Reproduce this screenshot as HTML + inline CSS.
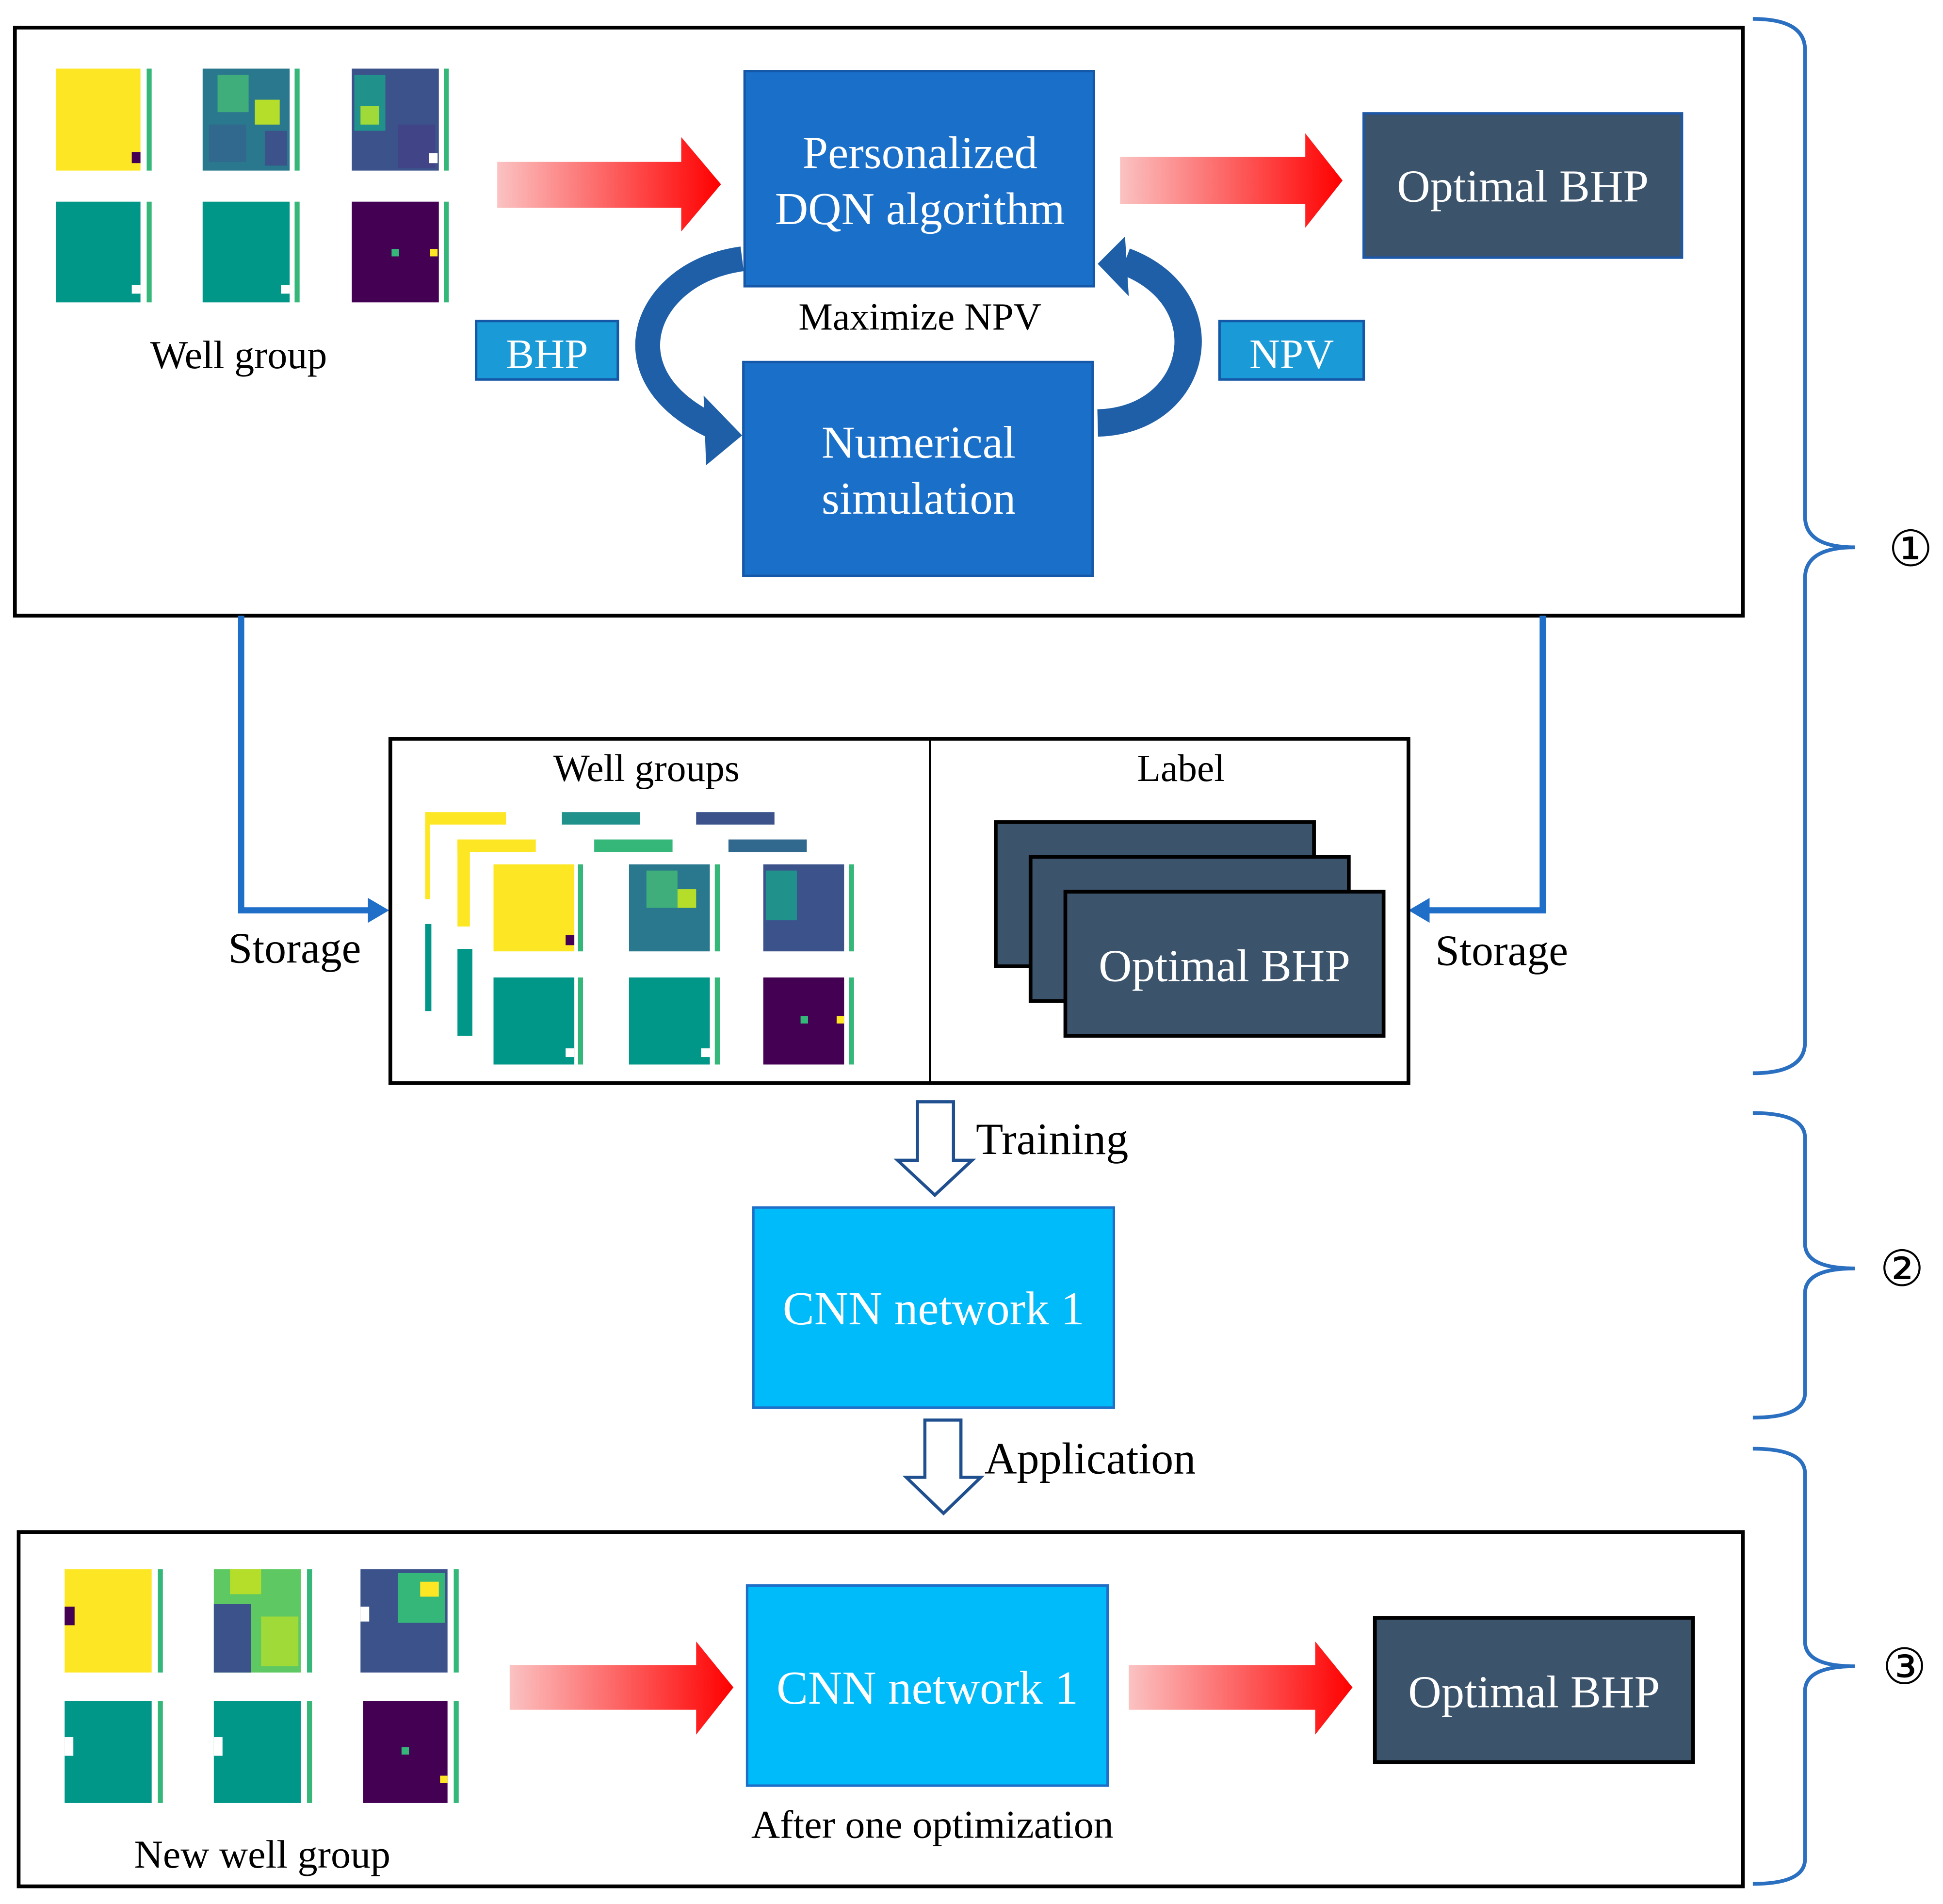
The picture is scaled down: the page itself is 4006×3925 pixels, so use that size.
<!DOCTYPE html>
<html><head><meta charset="utf-8"><style>
html,body{margin:0;padding:0;background:#fff;}
svg{display:block;}
text{font-family:"Liberation Serif",serif;}
</style></head><body>
<svg width="4006" height="3925" viewBox="0 0 1563 1531" xmlns="http://www.w3.org/2000/svg">
<defs>
<linearGradient id="rg" x1="0" x2="1" y1="0" y2="0"><stop offset="0" stop-color="#fbc2c2"/><stop offset="1" stop-color="#ff0000"/></linearGradient>
</defs>
<rect width="1563" height="1531" fill="#fff"/>

<rect x="12" y="22" width="1390" height="473" fill="none" stroke="#000" stroke-width="3"/>

<g>
<rect x="45" y="55" width="68" height="82" fill="#fde725"/><rect x="106" y="122" width="7" height="9" fill="#440154"/>
<rect x="118" y="55" width="4" height="82" fill="#35b779"/>
<rect x="163" y="55" width="70" height="82" fill="#2a788e"/><rect x="175" y="60" width="25" height="30" fill="#3fae7a"/><rect x="205" y="80" width="20" height="20" fill="#b5de2b"/><rect x="168" y="100" width="30" height="30" fill="#31688e"/><rect x="213" y="105" width="18" height="28" fill="#3b528b"/>
<rect x="237" y="55" width="4" height="82" fill="#35b779"/>
<rect x="283" y="55" width="70" height="82" fill="#3b528b"/><rect x="285" y="60" width="25" height="45" fill="#21918c"/><rect x="290" y="85" width="15" height="15" fill="#a0da39"/><rect x="320" y="100" width="30" height="35" fill="#414487"/><rect x="345" y="123" width="7" height="8" fill="#fff"/>
<rect x="357" y="55" width="4" height="82" fill="#35b779"/>
<rect x="45" y="162" width="68" height="81" fill="#009688"/><rect x="106" y="229" width="7" height="7" fill="#fff"/><rect x="118" y="162" width="4" height="81" fill="#35b779"/>
<rect x="163" y="162" width="70" height="81" fill="#009688"/><rect x="226" y="229" width="7" height="7" fill="#fff"/><rect x="237" y="162" width="4" height="81" fill="#35b779"/>
<rect x="283" y="162" width="70" height="81" fill="#440154"/><rect x="315" y="200" width="6" height="6" fill="#35b779"/><rect x="346" y="200" width="6" height="6" fill="#fde725"/><rect x="357" y="162" width="4" height="81" fill="#35b779"/>
</g>
<text x="192" y="296" font-size="32" text-anchor="middle">Well group</text>

<polygon points="400,130 548,130 548,110 580,148 548,186 548,167 400,167" fill="url(#rg)"/>
<polygon points="901,126 1050,126 1050,107 1080,145 1050,183 1050,164 901,164" fill="url(#rg)"/>

<rect x="599" y="57" width="281" height="173" fill="#1a6fc9" stroke="#1558a8" stroke-width="2"/>
<text x="740" y="135" font-size="37" fill="#fff" text-anchor="middle">Personalized</text>
<text x="740" y="180" font-size="37" fill="#fff" text-anchor="middle">DQN algorithm</text>
<rect x="1097" y="91" width="256" height="116" fill="#3b536b" stroke="#1d57a8" stroke-width="2"/>
<text x="1225" y="162" font-size="37" fill="#fff" text-anchor="middle">Optimal BHP</text>
<text x="740" y="265" font-size="31" text-anchor="middle">Maximize NPV</text>

<rect x="383" y="258" width="114" height="47" fill="#1a9ad6" stroke="#1558a8" stroke-width="2"/>
<text x="440" y="296" font-size="34" fill="#fff" text-anchor="middle">BHP</text>
<rect x="981" y="258" width="116" height="47" fill="#1a9ad6" stroke="#1558a8" stroke-width="2"/>
<text x="1039" y="296" font-size="34" fill="#fff" text-anchor="middle">NPV</text>

<rect x="598" y="291" width="281" height="172" fill="#1a6fc9" stroke="#1558a8" stroke-width="2"/>
<text x="739" y="368" font-size="37" fill="#fff" text-anchor="middle">Numerical</text>
<text x="739" y="413" font-size="37" fill="#fff" text-anchor="middle">simulation</text>

<path d="M597,208 C520,218 485,300 572,342" fill="none" stroke="#1f5fa8" stroke-width="20"/>
<polygon points="566,318 597,350 568,374" fill="#1f5fa8"/>
<path d="M883,340 C965,338 985,240 905,210" fill="none" stroke="#1f5fa8" stroke-width="22"/>
<polygon points="905,190 883,212 908,238" fill="#1f5fa8"/>

<polyline points="194,495 194,732 300,732" fill="none" stroke="#1f6fc8" stroke-width="5"/>
<polygon points="296,722 313,732 296,742" fill="#1f6fc8"/>
<polyline points="1241,495 1241,732 1147,732" fill="none" stroke="#1f6fc8" stroke-width="5"/>
<polygon points="1150,722 1133,732 1150,742" fill="#1f6fc8"/>
<text x="237" y="774" font-size="35" text-anchor="middle">Storage</text>
<text x="1208" y="776" font-size="35" text-anchor="middle">Storage</text>

<rect x="314" y="594" width="819" height="277" fill="#fff" stroke="#000" stroke-width="3"/>
<line x1="748" y1="594" x2="748" y2="871" stroke="#000" stroke-width="1.5"/>
<text x="520" y="628" font-size="31" text-anchor="middle">Well groups</text>
<text x="950" y="628" font-size="31" text-anchor="middle">Label</text>
<g>
<rect x="342" y="653" width="65" height="10" fill="#fde725"/><rect x="342" y="653" width="4" height="70" fill="#fde725"/>
<rect x="452" y="653" width="63" height="10" fill="#21918c"/><rect x="560" y="653" width="63" height="10" fill="#3b528b"/>
<rect x="368" y="675" width="63" height="10" fill="#fde725"/><rect x="368" y="675" width="10" height="70" fill="#fde725"/>
<rect x="478" y="675" width="63" height="10" fill="#35b779"/><rect x="586" y="675" width="63" height="10" fill="#31688e"/>
<rect x="342" y="743" width="5" height="70" fill="#009688"/><rect x="368" y="763" width="12" height="70" fill="#009688"/>
<rect x="397" y="695" width="65" height="70" fill="#fde725"/><rect x="455" y="752" width="7" height="8" fill="#440154"/><rect x="465" y="695" width="4" height="70" fill="#35b779"/>
<rect x="506" y="695" width="65" height="70" fill="#2a788e"/><rect x="520" y="700" width="25" height="30" fill="#3fae7a"/><rect x="545" y="715" width="15" height="15" fill="#b5de2b"/><rect x="575" y="695" width="4" height="70" fill="#35b779"/>
<rect x="614" y="695" width="65" height="70" fill="#3b528b"/><rect x="616" y="700" width="25" height="40" fill="#21918c"/><rect x="683" y="695" width="4" height="70" fill="#35b779"/>
<rect x="397" y="786" width="65" height="70" fill="#009688"/><rect x="455" y="843" width="7" height="7" fill="#fff"/><rect x="465" y="786" width="4" height="70" fill="#35b779"/>
<rect x="506" y="786" width="65" height="70" fill="#009688"/><rect x="564" y="843" width="7" height="7" fill="#fff"/><rect x="575" y="786" width="4" height="70" fill="#35b779"/>
<rect x="614" y="786" width="65" height="70" fill="#440154"/><rect x="644" y="817" width="6" height="6" fill="#35b779"/><rect x="673" y="817" width="6" height="6" fill="#fde725"/><rect x="683" y="786" width="4" height="70" fill="#35b779"/>
</g>
<rect x="801" y="661" width="256" height="116" fill="#3b536b" stroke="#000" stroke-width="3"/>
<rect x="829" y="689" width="256" height="116" fill="#3b536b" stroke="#000" stroke-width="3"/>
<rect x="857" y="717" width="256" height="116" fill="#3b536b" stroke="#000" stroke-width="3"/>
<text x="985" y="789" font-size="37" fill="#fff" text-anchor="middle">Optimal BHP</text>

<polygon points="738,886 767,886 767,933 782,933 752,961 722,933 738,933" fill="#fff" stroke="#1f4f8f" stroke-width="2.5"/>
<text x="785" y="928" font-size="36">Training</text>
<rect x="606" y="971" width="290" height="161" fill="#00bbf9" stroke="#1f6fc8" stroke-width="2"/>
<text x="751" y="1065" font-size="38" fill="#fff" text-anchor="middle">CNN network 1</text>
<polygon points="744,1142 773,1142 773,1188 789,1188 759,1217 729,1188 744,1188" fill="#fff" stroke="#1f4f8f" stroke-width="2.5"/>
<text x="792" y="1185" font-size="36">Application</text>

<rect x="15" y="1232" width="1387" height="285" fill="none" stroke="#000" stroke-width="3"/>
<g>
<rect x="52" y="1262" width="70" height="83" fill="#fde725"/><rect x="52" y="1292" width="8" height="15" fill="#440154"/><rect x="127" y="1262" width="4" height="83" fill="#35b779"/>
<rect x="172" y="1262" width="70" height="83" fill="#5ec962"/><rect x="172" y="1290" width="30" height="55" fill="#3b528b"/><rect x="185" y="1262" width="25" height="20" fill="#b5de2b"/><rect x="210" y="1300" width="30" height="40" fill="#a0da39"/><rect x="247" y="1262" width="4" height="83" fill="#35b779"/>
<rect x="290" y="1262" width="70" height="83" fill="#3b528b"/><rect x="320" y="1265" width="38" height="40" fill="#35b779"/><rect x="338" y="1272" width="15" height="12" fill="#fde725"/><rect x="290" y="1292" width="7" height="12" fill="#fff"/><rect x="365" y="1262" width="4" height="83" fill="#35b779"/>
<rect x="52" y="1368" width="70" height="82" fill="#009688"/><rect x="52" y="1397" width="7" height="15" fill="#fff"/><rect x="127" y="1368" width="4" height="82" fill="#35b779"/>
<rect x="172" y="1368" width="70" height="82" fill="#009688"/><rect x="172" y="1397" width="7" height="15" fill="#fff"/><rect x="247" y="1368" width="4" height="82" fill="#35b779"/>
<rect x="292" y="1368" width="68" height="82" fill="#440154"/><rect x="323" y="1405" width="6" height="6" fill="#35b779"/><rect x="354" y="1428" width="6" height="6" fill="#fde725"/><rect x="365" y="1368" width="4" height="82" fill="#35b779"/>
</g>
<text x="211" y="1502" font-size="32" text-anchor="middle">New well group</text>
<polygon points="410,1339 560,1339 560,1320 590,1357 560,1395 560,1375 410,1375" fill="url(#rg)"/>
<polygon points="908,1339 1058,1339 1058,1320 1088,1357 1058,1395 1058,1375 908,1375" fill="url(#rg)"/>
<rect x="601" y="1275" width="290" height="161" fill="#00bbf9" stroke="#1f6fc8" stroke-width="2"/>
<text x="746" y="1370" font-size="38" fill="#fff" text-anchor="middle">CNN network 1</text>
<text x="750" y="1478" font-size="32" text-anchor="middle">After one optimization</text>
<rect x="1106" y="1301" width="256" height="116" fill="#3b536b" stroke="#000" stroke-width="3"/>
<text x="1234" y="1373" font-size="37" fill="#fff" text-anchor="middle">Optimal BHP</text>

<g fill="none" stroke="#2a6fc0" stroke-width="3">
<path d="M1410,15 Q1452,15 1452,40 L1452,415 Q1452,440 1492,440 Q1452,440 1452,465 L1452,838 Q1452,863 1410,863"/>
<path d="M1410,895 Q1452,895 1452,915 L1452,1000 Q1452,1020 1492,1020 Q1452,1020 1452,1040 L1452,1120 Q1452,1140 1410,1140"/>
<path d="M1410,1165 Q1452,1165 1452,1185 L1452,1320 Q1452,1340 1492,1340 Q1452,1340 1452,1360 L1452,1495 Q1452,1515 1410,1515"/>
</g>
<text x="1537" y="455" font-size="40" text-anchor="middle" font-family="DejaVu Sans, sans-serif">①</text>
<text x="1530" y="1034" font-size="40" text-anchor="middle" font-family="DejaVu Sans, sans-serif">②</text>
<text x="1532" y="1354" font-size="40" text-anchor="middle" font-family="DejaVu Sans, sans-serif">③</text>
</svg>
</body></html>
